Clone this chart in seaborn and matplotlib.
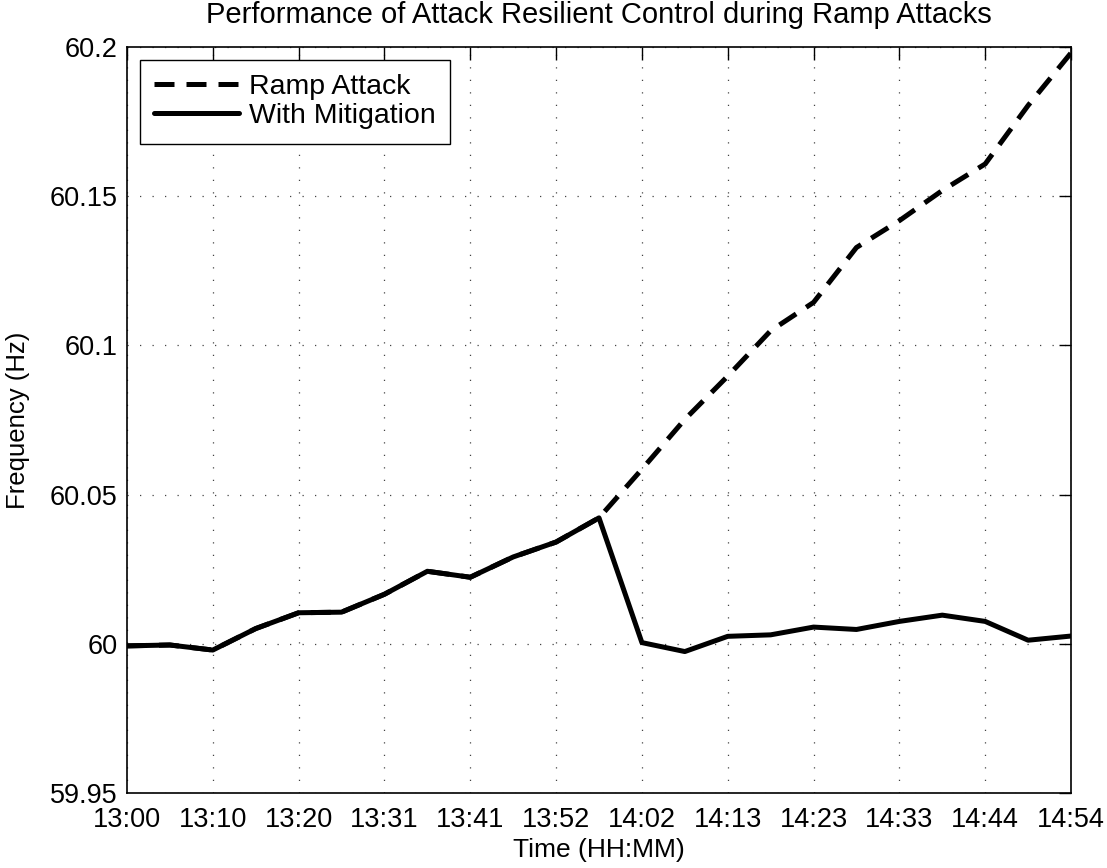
import numpy as np
import pandas as pd
import matplotlib
matplotlib.use("Agg")
import matplotlib.pyplot as plt
import seaborn as sns
from matplotlib.lines import Line2D

# Sample times in minutes after 13:00
minutes = [i * 114 / 22 for i in range(23)]

mitigated = [59.9993, 59.9996, 59.9979, 60.0051, 60.0104, 60.0106, 60.0166,
             60.0243, 60.0223, 60.0291, 60.0341, 60.0422, 60.0004, 59.9974,
             60.0025, 60.0030, 60.0056, 60.0048, 60.0075, 60.0096, 60.0075,
             60.0012, 60.0026]

ramp_attack = [59.9993, 59.9996, 59.9979, 60.0051, 60.0104, 60.0106, 60.0166,
               60.0243, 60.0223, 60.0291, 60.0341, 60.0422, 60.0585, 60.0752,
               60.0897, 60.1049, 60.1144, 60.1328, 60.1418, 60.1519, 60.1608,
               60.1804, 60.1980]

tick_minutes = [k * 114 / 11 for k in range(12)]
tick_labels = ["13:00", "13:10", "13:20", "13:31", "13:41", "13:52",
               "14:02", "14:13", "14:23", "14:33", "14:44", "14:54"]

df = pd.DataFrame({
    "t": minutes * 2,
    "freq": ramp_attack + mitigated,
    "series": ["Ramp Attack"] * len(minutes) + ["With Mitigation"] * len(minutes),
})

sns.set_theme(style="white")
plt.rcParams["font.family"] = ["Liberation Sans", "DejaVu Sans"]
plt.rcParams["text.color"] = "black"
plt.rcParams["axes.labelcolor"] = "black"

fig = plt.figure(figsize=(11.07, 8.68), dpi=100)
ax = fig.add_axes([0.1147, 0.0864, 0.8528, 0.8595])

dash = (4, 2.4)
sns.lineplot(data=df, x="t", y="freq", hue="series", style="series",
             palette=["black", "black"],
             dashes={"Ramp Attack": dash, "With Mitigation": ""},
             linewidth=3.6, ax=ax, legend=False)

ax.set_xlim(0, 114)
ax.set_ylim(59.95, 60.2)
ax.set_xticks(tick_minutes)
ax.set_xticklabels(tick_labels)
ax.set_yticks([59.95, 60.0, 60.05, 60.1, 60.15, 60.2])
ax.set_yticklabels(["59.95", "60", "60.05", "60.1", "60.15", "60.2"])

ax.grid(True, linestyle=(0, (1, 9)), color="#444444", linewidth=0.9)
ax.tick_params(direction="in", length=9, width=1, top=True, right=True,
               labelsize=19.5, colors="black")
ax.tick_params(axis="y", pad=7)
ax.tick_params(axis="x", pad=10)
for s in ax.spines.values():
    s.set_color("black")
    s.set_linewidth(1.2)

ax.set_xlabel("Time (HH:MM)", fontsize=19, labelpad=4)
ax.set_ylabel("Frequency (Hz)", fontsize=18.5, labelpad=14)
ax.set_title("Performance of Attack Resilient Control during Ramp Attacks",
             fontsize=21, pad=17)

handles = [Line2D([], [], color="black", linewidth=3.6, dashes=dash),
           Line2D([], [], color="black", linewidth=3.6)]
leg = ax.legend(handles, ["Ramp Attack", "With Mitigation"], loc="upper left",
                fontsize=20.5, handlelength=3.0, handletextpad=0.35,
                borderaxespad=0.45, fancybox=False, framealpha=1,
                edgecolor="black", borderpad=0.5, labelspacing=0.12)
leg.get_frame().set_linewidth(1.0)

fig.savefig("out.png", dpi=100, facecolor="white")
